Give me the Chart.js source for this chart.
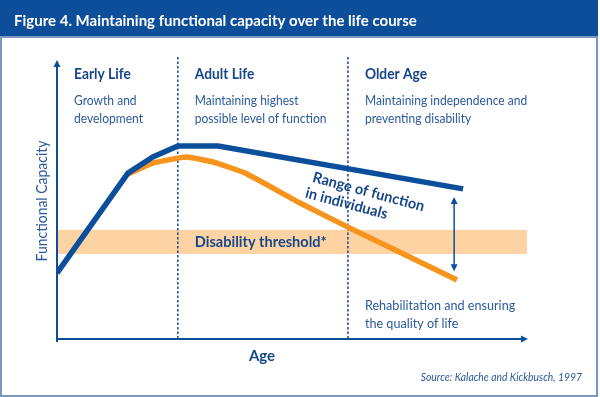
<!DOCTYPE html>
<html>
<head>
<meta charset="utf-8">
<script src="https://cdn.jsdelivr.net/npm/chart.js@4.4.1/dist/chart.umd.min.js"></script>
<style>
  html, body { margin: 0; padding: 0; background: #fff; }
  canvas { display: block; }
</style>
</head>
<body>
<canvas id="chart" width="600" height="397"></canvas>
<script>
const title = "Figure 4. Maintaining functional capacity over the life course"
const stageNames = ["Early Life", "Adult Life", "Older Age"]
const stageNotes = [
  ["Growth and", "development"],
  ["Maintaining highest", "possible level of function"],
  ["Maintaining independence and", "preventing disability"]
]
const stageStarts = [0, 25.7, 61.9]

// age (0-100) vs functional capacity (0-100)
const highAges = [0, 15.1, 20.4, 25.7, 34.3, 86.4]
const highCapacity = [23.8, 59.9, 65.7, 69.7, 69.7, 54.2]
const declineAges = [15.1, 20.4, 25.7, 27.7, 33.2, 40.0, 51.7, 61.9, 85.1]
const declineCapacity = [59.6, 63.5, 65.3, 65.7, 63.9, 59.9, 49.1, 40.4, 21.3]

const thresholdBand = [30.7, 39.4]
const thresholdLabel = "Disability threshold*"
const rangeAge = 84.5
const rangeSpan = [24.5, 51.3]
const rangeLabel = ["Range of function", "in individuals"]
const rehabNote = ["Rehabilitation and ensuring", "the quality of life"]
const xTitle = "Age"
const yTitle = "Functional Capacity"
const source = "Source: Kalache and Kickbusch, 1997"

const BLUE = "#0b4f9c"
const ORANGE = "#f7941d"
const HEAD = "#17478a"
const TEXT = "#2a5a9b"
const BAND = "#fdd3a3"

function arrowHead(ctx, x, y, dx, dy) {
  // small filled triangle pointing along (dx, dy)
  ctx.beginPath()
  ctx.moveTo(x, y)
  ctx.lineTo(x - dx * 7 - dy * 3.5, y - dy * 7 + dx * 3.5)
  ctx.lineTo(x - dx * 7 + dy * 3.5, y - dy * 7 - dx * 3.5)
  ctx.closePath()
  ctx.fill()
}

// Lato is wider than the original's font, so narrow it a bit
function say(ctx, text, x, y, squeeze) {
  ctx.save()
  ctx.translate(x, y)
  ctx.scale(squeeze, 1)
  ctx.fillText(text, 0, 0)
  ctx.restore()
}

const figure = {
  id: "figure",
  beforeDatasetsDraw(chart) {
    const {ctx, chartArea: a, scales: {x, y}} = chart
    ctx.save()
    ctx.fillStyle = "#0c4e99"
    ctx.fillRect(0, 0, 598, 37)
    ctx.fillStyle = "#fff"
    ctx.font = "bold 15px Lato"
    ctx.textBaseline = "middle"
    ctx.fillText(title, 14, 21)

    ctx.strokeStyle = "#7b97bf"
    ctx.lineWidth = 2
    ctx.strokeRect(1, 37, 596, 359)

    const top = y.getPixelForValue(thresholdBand[1])
    const bottom = y.getPixelForValue(thresholdBand[0])
    ctx.fillStyle = BAND
    ctx.fillRect(a.left, top, a.right - a.left, bottom - top)

    ctx.strokeStyle = HEAD
    ctx.lineWidth = 1.5
    ctx.setLineDash([2.5, 2])
    stageStarts.slice(1).forEach(v => {
      const px = x.getPixelForValue(v)
      ctx.beginPath()
      ctx.moveTo(px, a.top - 5)
      ctx.lineTo(px, a.bottom)
      ctx.stroke()
    })
    ctx.restore()
  },
  afterDatasetsDraw(chart) {
    const {ctx, chartArea: a, scales: {x, y}} = chart
    ctx.save()
    ctx.strokeStyle = BLUE
    ctx.fillStyle = BLUE
    ctx.lineWidth = 2
    ctx.beginPath()
    ctx.moveTo(a.left, a.top + 4)
    ctx.lineTo(a.left, a.bottom + 3)
    ctx.moveTo(a.left - 1, a.bottom)
    ctx.lineTo(a.right - 5, a.bottom)
    ctx.stroke()
    arrowHead(ctx, a.left, a.top - 2, 0, -1)
    arrowHead(ctx, a.right + 1, a.bottom, 1, 0)

    // range arrow
    const rx = x.getPixelForValue(rangeAge)
    const r0 = y.getPixelForValue(rangeSpan[0])
    const r1 = y.getPixelForValue(rangeSpan[1])
    ctx.lineWidth = 1.5
    ctx.beginPath()
    ctx.moveTo(rx, r1 + 4)
    ctx.lineTo(rx, r0 - 4)
    ctx.stroke()
    arrowHead(ctx, rx, r1, 0, -1)
    arrowHead(ctx, rx, r0, 0, 1)

    ctx.textBaseline = "middle"
    ctx.textAlign = "left"
    stageNames.forEach((name, i) => {
      const px = x.getPixelForValue(stageStarts[i]) + 17
      ctx.fillStyle = HEAD
      ctx.font = "bold 14.5px Lato"
      say(ctx, name, px, 74, 0.95)
      ctx.fillStyle = TEXT
      ctx.font = "14px Lato"
      stageNotes[i].forEach((line, j) => say(ctx, line, px, 100 + j * 18, 0.86))
    })

    ctx.fillStyle = HEAD
    ctx.font = "bold 15px Lato"
    say(ctx, thresholdLabel, x.getPixelForValue(stageStarts[1]) + 17, (y.getPixelForValue(thresholdBand[0]) + y.getPixelForValue(thresholdBand[1])) / 2, 0.97)

    ctx.fillStyle = TEXT
    ctx.font = "14px Lato"
    rehabNote.forEach((line, j) => say(ctx, line, x.getPixelForValue(stageStarts[2]) + 17, 305 + j * 18, 0.9))

    ctx.save()
    ctx.fillStyle = HEAD
    ctx.font = "bold 15px Lato"
    ctx.translate(313, 177)
    ctx.rotate(15 * Math.PI / 180)
    say(ctx, rangeLabel[0], 0, 0, 0.97)
    say(ctx, rangeLabel[1], -3, 17, 0.97)
    ctx.restore()

    ctx.save()
    ctx.fillStyle = TEXT
    ctx.font = "15px Lato"
    ctx.textAlign = "center"
    ctx.translate(42, 201)
    ctx.rotate(-Math.PI / 2)
    say(ctx, yTitle, 0, 0, 0.93)
    ctx.restore()

    ctx.fillStyle = HEAD
    ctx.font = "bold 15px Lato"
    ctx.textAlign = "center"
    ctx.fillText(xTitle, 262, 356)

    ctx.fillStyle = TEXT
    ctx.font = "italic 12px Lato"
    ctx.textAlign = "right"
    say(ctx, source, 582, 377, 0.86)
    ctx.restore()
  }
}

function draw() {
  new Chart(document.getElementById("chart"), {
    type: "line",
    data: {
      datasets: [
        {
          label: "Highest capacity",
          data: highAges.map((v, i) => ({x: v, y: highCapacity[i]})),
          borderColor: BLUE,
          borderWidth: 5.5,
          pointRadius: 0,
          tension: 0
        },
        {
          label: "Declining capacity",
          data: declineAges.map((v, i) => ({x: v, y: declineCapacity[i]})),
          borderColor: ORANGE,
          borderWidth: 5.5,
          pointRadius: 0,
          tension: 0.15
        }
      ]
    },
    options: {
      responsive: false,
      animation: false,
      devicePixelRatio: 1,
      layout: {padding: {left: 57, right: 73, top: 62, bottom: 58}},
      plugins: {legend: {display: false}, tooltip: {enabled: false}},
      scales: {
        x: {type: "linear", min: 0, max: 100, display: false},
        y: {min: 0, max: 100, display: false}
      }
    },
    plugins: [figure]
  })
}

Promise.all([
  document.fonts.load("14px Lato"),
  document.fonts.load("bold 14px Lato"),
  document.fonts.load("italic 12px Lato")
]).then(draw, draw)
</script>
</body>
</html>
